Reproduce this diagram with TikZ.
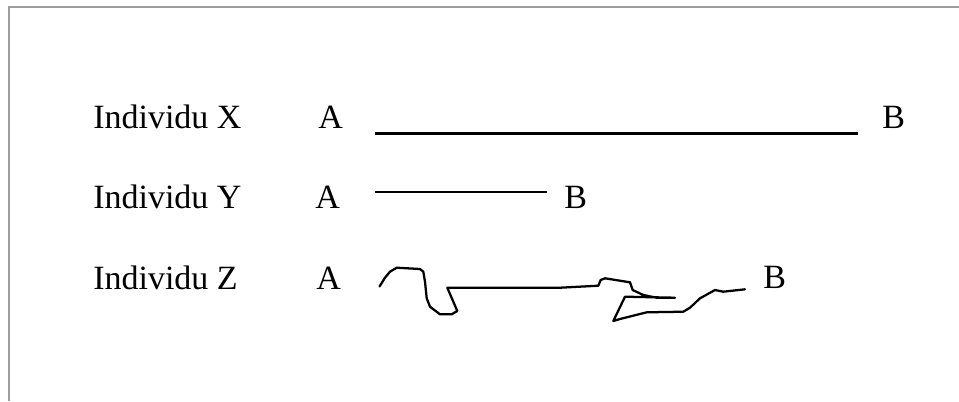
\documentclass[tikz,border=0pt]{standalone}
\usepackage{fontspec}
\setmainfont{Liberation Serif}
\begin{document}
\begin{tikzpicture}[x=0.75pt,y=-0.75pt,
  lbl/.style={anchor=base west,inner sep=0pt,font=\fontsize{25.5}{30}\selectfont},
  seg/.style={line width=2.1pt,line cap=butt},
  thinseg/.style={line width=1.5pt},
  wavy/.style={line width=1.7pt,line join=round,line cap=round}]
\useasboundingbox (0,0) rectangle (959,401);
\draw[color=black!38,line width=1.5pt] (9,401) -- (9,6.5) -- (959,6.5);
% row X
\node[lbl] (ix) at (93,128.5) {Individu X};
\node[lbl] (ax) at (318,128.5) {A};
\node[lbl] (bx) at (882,128.5) {B};
\coordinate (xs) at (375,133.5);
\coordinate (xe) at (858,133.5);
\draw[seg] (xs) -- (xe);
% row Y
\node[lbl] (iy) at (93,208.5) {Individu Y};
\node[lbl] (ay) at (315,208.5) {A};
\node[lbl] (by) at (564,208.5) {B};
\coordinate (ys) at (375,191.5);
\coordinate (ye) at (547,191.5);
\draw[thinseg] (ys) -- (ye);
% row Z
\node[lbl] (iz) at (93,289.5) {Individu Z};
\node[lbl] (az) at (316,289.5) {A};
\node[lbl] (bz) at (763,288.5) {B};
\coordinate (zs) at (379.5,286.5);
\coordinate (ze) at (745,289.3);
\draw[wavy] (zs) -- (385,277.7) -- (390,271.7) -- (396.7,267.7) -- (420,269)
  -- (423.3,271.7) -- (425,281.7) -- (426.7,298.3) -- (430,306.7) -- (440,314.3)
  -- (451.7,314.3) -- (457.3,311) -- (453.3,301.7) -- (447.3,287.7) -- (450,287.7)
  -- (560,287.7) -- (598.3,285.7) -- (600.7,280) -- (605,278.3) -- (630,282.3)
  -- (632.7,290) -- (643.3,295) -- (656.7,297.7) -- (675,297.7)
  -- (625,296.7) -- (613.3,321) -- (620,319) -- (646.7,312.3) -- (683.3,311.7)
  -- (690,307.7) -- (700,298.3) -- (715,290) -- (723.3,291.7) -- (ze);
\end{tikzpicture}
\end{document}
